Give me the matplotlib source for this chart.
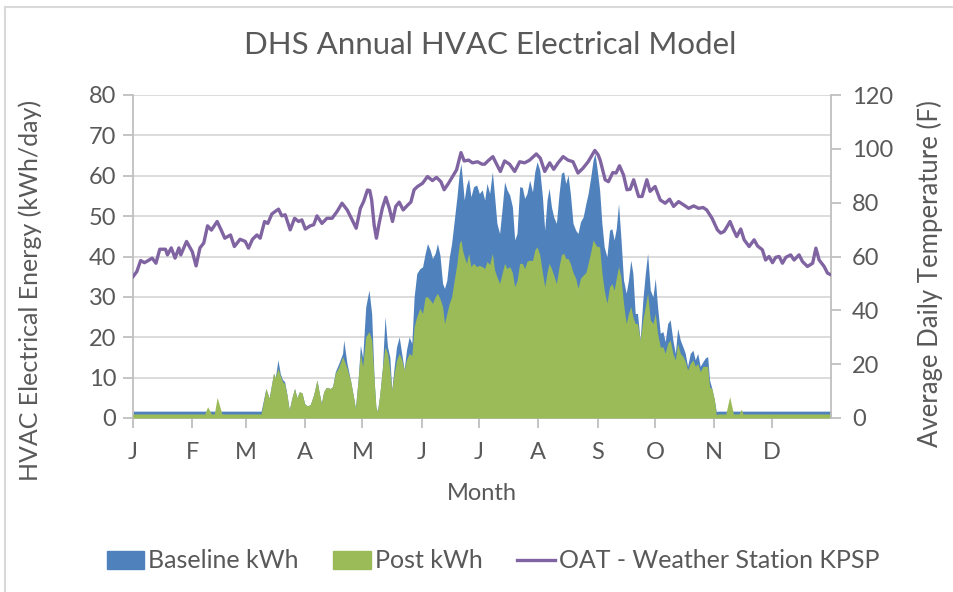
import matplotlib
matplotlib.use("Agg")
import matplotlib.pyplot as plt
from matplotlib.lines import Line2D
from matplotlib.patches import Patch
import numpy as np

# ---------------- data ----------------
month_starts = [0, 31, 59, 90, 120, 151, 181, 212, 243, 273, 304, 334]
month_labels = ["J", "F", "M", "A", "M", "J", "J", "A", "S", "O", "N", "D"]

# day of year for the energy series
energy_days = [
    0, 37.5, 39, 41, 42.5, 44, 46.5, 67, 69.5, 71.2, 73.5, 74.4, 75.8, 77, 78.2, 79.3,
    80.5, 81.7, 83.1, 84.5, 85.7, 87, 88.4, 89.7, 91, 92.7, 94.5, 96.2, 97.4, 98.5,
    99.7, 101.1, 103.2, 104.4, 105.8, 107.6, 109.6, 110.2, 111.9, 113.7, 115.4, 116.3,
    117.7, 118.9, 120.1, 121.7, 123.4, 124.8, 126.1, 127, 127.8, 129, 130.4, 131.8,
    133.1, 134.3, 135.3, 136.5, 137.8, 139.2, 140.5, 141.8, 143, 144.4, 145.8, 147,
    148.4, 150, 151.4, 152.8, 154, 155.4, 156.6, 158, 159.2, 160.5, 161.9, 162.9,
    164.1, 165.4, 166.6, 168, 169.4, 170.6, 171.5, 172.3, 173.2, 174.4, 175.5, 176.7,
    178.1, 179.7, 181.1, 182.6, 183.9, 185.1, 186.5, 187.9, 189.1, 190.3, 191.7,
    193.1, 194.3, 195.6, 197, 198.4, 199.6, 200.8, 202.2, 203.6, 204.8, 206, 207.4,
    208.9, 210.1, 211.3, 212.7, 214.1, 215.3, 216.5, 217.6, 218.8, 220, 221.4, 222.8,
    224, 225.2, 226.3, 227.5, 228.7, 230.1, 231.5, 232.7, 234, 235.4, 236.8, 238,
    239.4, 240.6, 241.6, 242.6, 244, 245.2, 246.4, 247.8, 249.2, 250.4, 251.6, 252.7,
    253.9, 255.1, 256.5, 257.9, 259.1, 260.3, 261.4, 262.6, 263.8, 265.2, 266.6,
    267.9, 269.1, 270.5, 271.9, 273.1, 274.3, 275.7, 277.1, 278.3, 279.6, 280.9,
    282.3, 283.6, 284.8, 286.2, 287.6, 288.8, 290, 291.4, 292.8, 294, 295.3, 296.6,
    298.1, 299.3, 300.5, 301.5, 302.7, 304, 305, 306, 310, 312, 314, 317, 318, 319, 365,
]

baseline_kwh = [
    1.7, 1.7, 1.7, 1.7, 1.7, 1.7, 1.7, 1.7, 7.3, 4.9, 11.1, 10, 14.4, 11, 9.5, 9,
    5.8, 2, 5, 7.3, 5, 6.5, 6.2, 3.6, 3, 3.3, 5.8, 9.4, 6.2, 3.6,
    6.5, 7.6, 7.3, 7.8, 11.5, 13.5, 16, 19.3, 13.5, 9.4, 5, 2.4,
    9.4, 18, 15, 27.5, 31.7, 25.9, 9.4, 2.8, 1.6, 5.6, 12.3, 25.1,
    17.6, 15.1, 6.9, 12.3, 17.6, 20.1, 16, 12, 16.8, 20.1, 18.5, 30,
    35.8, 37, 37.4, 40.8, 43.2, 41.6, 39.5, 40.8, 43.2, 40.4, 33.3, 32.1,
    34.1, 39.9, 43.2, 49, 54.8, 60.6, 63, 58.9, 54, 57.7, 59.3, 54.8,
    57.3, 57.7, 55.6, 56.5, 54, 58.1, 55.6, 61, 54.8, 48.2, 45.7,
    52.3, 58.5, 56.5, 55.2, 52.3, 44.1, 45.7, 57.3, 57.1, 54.4, 55.6, 58.9,
    56, 61, 63.5, 61.4, 54.8, 46.5, 54, 56.9, 52.3, 49.8, 48.2, 55.6,
    60.6, 61, 58.1, 60.2, 55.6, 48.2, 46.5, 45.7, 48.6, 49.8, 53.1, 55.6,
    59.8, 63.9, 65.5, 62, 56.5, 48.2, 42.4, 39.9, 46.5, 46.9, 44.1, 46.9,
    53.1, 44.9, 34.2, 30.9, 34.2, 39.1, 35.8, 25.9, 25.9, 19.3, 29.2,
    35.8, 40.8, 31.7, 30, 34.6, 27.6, 21, 21.4, 18.9, 23.4, 24.3,
    19.3, 16, 22.2, 19.3, 17.6, 16, 12.8, 16, 16.8, 14.4, 16, 12.8,
    14, 14.9, 15.2, 9.4, 7.3, 4.5, 1.6, 1.7, 1.7, 1.7, 1.7, 1.7, 1.7, 1.7, 1.7,
]

post_kwh = [
    1.0, 1.0, 2.8, 1.0, 1.0, 5.1, 1.0, 1.0, 7.3, 4.9, 11.1, 10, 12.3, 10.5, 9, 8.5,
    5.8, 2, 5, 7.3, 5, 6.5, 6.2, 3.6, 3, 3.3, 5.8, 9.4, 6.2, 3.6,
    6.5, 7.6, 7.3, 7.8, 11.1, 12.6, 15.2, 14.5, 12.3, 9.4, 5, 2.4,
    9.4, 16, 12.7, 20.1, 21.4, 19.3, 9.4, 2.8, 1.6, 5.6, 12.3, 17.6,
    16, 11.9, 6.9, 10.9, 14.3, 16, 14.5, 11.9, 14.5, 16, 15.5, 22.6,
    25.1, 27.2, 25.9, 30, 30, 29.2, 28.4, 30, 30.9, 29.6, 27.6, 23.4,
    25.9, 28.4, 30, 34.2, 38.3, 43.2, 44.1, 41.6, 40, 38.3, 40.8, 37.5,
    38.3, 37.5, 37.8, 37.5, 37, 38.8, 38, 40.8, 36.6, 35, 33.3,
    36, 38.3, 37, 37.5, 36, 32.5, 34, 38.3, 38.3, 37, 38.8, 39.1,
    39, 41.6, 42.4, 40.4, 36, 32.5, 36, 38.3, 37, 35.4, 33.3, 37.5,
    40.4, 40.8, 39.5, 39.5, 38.3, 36, 34.6, 32.1, 34.6, 35.4, 36, 38.3,
    41.2, 44.1, 43.2, 42.5, 42.4, 36, 31.7, 28.4, 32.5, 33.3, 31.7, 34.6,
    37.5, 35, 28.4, 23.4, 25.9, 27.6, 25.1, 23.4, 23.4, 19.3, 24.3,
    27.6, 30.9, 24.3, 23.4, 25.9, 21, 17.6, 17.6, 16, 18.5, 19.3,
    16, 14.4, 18.5, 16, 15.2, 14, 11.9, 13.5, 14.4, 12.8, 13.5, 11.5,
    12.8, 12.8, 12.8, 7.7, 7.3, 4.5, 0.8, 1.0, 1.0, 5.3, 1.0, 1.0, 2.2, 1.0, 1.0,
]

# outside air temperature (F), right axis
oat_days = [
    0, 2, 4, 6, 8, 10, 12, 14, 17, 18, 20, 22, 24, 25, 28, 31, 33, 35, 37, 39, 41, 44,
    46, 48, 51, 53, 56, 58.7, 60.4, 62.5, 64.8, 66.5, 68.8, 70.5, 72.6, 74.3, 76.1,
    77.8, 79.6, 82.2, 84.5, 86.6, 88.3, 90.1, 92.7, 94.5, 96.2, 98.8, 101.4, 104.1,
    106.7, 109.3, 112, 114.6, 116.7, 118.9, 120.6, 122.6, 123.8, 124.8, 126.1, 127.3,
    128.7, 130.4, 132.2, 134, 135.7, 137.4, 139.2, 141.3, 143.5, 145.3, 147, 148.8,
    151.4, 154, 156.6, 158.7, 161, 162.7, 165, 167.1, 169.2, 171.5, 173.2, 175.5,
    177.5, 180.2, 182.5, 183.9, 185.6, 188.2, 190, 192.1, 194.3, 196.9, 199.6, 202.2,
    204.8, 207.4, 210.9, 213, 215.3, 217.9, 220, 222.3, 224.9, 227.5, 230.1, 232.7,
    235.3, 238, 241.5, 243.2, 244.3, 246.9, 248.6, 250.9, 252.6, 254.4, 256.5, 258.3,
    260, 261.8, 264.4, 266.2, 268.7, 270.4, 273, 275.7, 278.3, 280.6, 282.7, 285.3,
    287.9, 290.6, 293.2, 295.8, 298.1, 300, 302.8, 305.6, 307.3, 309.1, 310.5, 312.2,
    314, 315.7, 317.8, 319.6, 322.2, 324.8, 326.6, 329.1, 330.8, 332.6, 334.4, 336.1,
    337.9, 339.6, 341.4, 343.9, 345.7, 348.3, 350.1, 352.7, 355.4, 357.1, 358.8,
    361.4, 363.2, 365,
]

oat_f = [
    52.5, 54.4, 58.5, 57.7, 58.5, 59.4, 57.5, 62.7, 62.7, 60.6, 63.2, 59.4, 63.2, 60.6,
    65.6, 61.8, 56.5, 63.2, 65, 71.4, 69.8, 73, 70, 66.8, 68, 63.7, 66.4, 65.6, 63.1,
    66.4, 68, 66.8, 73, 72.3, 75.8, 76.7, 77.6, 75.1, 75.5, 69.9, 74.2, 73, 73.6, 70.2,
    71.4, 71.8, 75.1, 72.3, 74.2, 74.2, 76.7, 79.8, 77.3, 73.6, 70.5, 77.9, 80.4, 84.7,
    84.5, 81, 71.7, 66.8, 72.3, 78, 82, 78, 73, 78.6, 80.2, 77.3, 79, 80.2, 84.8, 86,
    87.2, 89.7, 88.2, 89.4, 87.8, 84.8, 87.2, 89.7, 92.2, 98.6, 95.5, 95.8, 94.8, 95.2,
    94.3, 94.3, 95.5, 97.1, 94.5, 91.6, 95.5, 94.3, 91.6, 95.2, 94.8, 95.8, 98.1, 96.5,
    91.6, 94.8, 92.4, 94.8, 97.1, 95.8, 95.2, 91, 92.8, 95.2, 99.4, 97.8, 95.8, 88.5,
    87.8, 91.2, 91, 93.7, 90.3, 84.8, 85, 88.5, 82.3, 82.3, 88.5, 84.2, 86, 81, 79.8,
    81.3, 78.6, 80.4, 79.2, 77.9, 78.8, 77.9, 78.2, 77.3, 74.2, 69.9, 68.7, 69.3, 70.9,
    73, 69.9, 67.4, 70.2, 66.2, 63.7, 66.2, 63.9, 62.5, 58.7, 60, 57.7, 59.7, 60, 57.5,
    59.7, 60.6, 58.7, 60.6, 58.1, 56.3, 57.5, 63.1, 58.7, 56.3, 53.8, 53.2,
]

# ---------------- style ----------------
FONT = ["Lato", "DejaVu Sans"]
TXT = "#595959"
GRID = "#D9D9D9"
AXC = "#BFBFBF"
BLUE = "#4F81BD"
GREEN = "#9BBB59"
PURPLE = "#8064A2"

plt.rcParams["font.family"] = FONT

fig = plt.figure(figsize=(9.54, 5.92), dpi=100)
W, H = 954, 592
ax = fig.add_axes([133 / W, 1 - 418 / H, (831 - 133) / W, (418 - 95) / H])
ax2 = ax.twinx()

ax.fill_between(energy_days, 0, baseline_kwh, color=BLUE, linewidth=0, zorder=2)
ax.fill_between(energy_days, 0, post_kwh, color=GREEN, linewidth=0, zorder=3)
ax2.plot(oat_days, oat_f, color=PURPLE, linewidth=2.4, solid_joinstyle="round", zorder=4)

ax.set_xlim(0, 365)
ax.set_ylim(0, 80)
ax2.set_ylim(0, 120)
ax.set_yticks(np.arange(0, 81, 10))
ax2.set_yticks(np.arange(0, 121, 20))
ax.set_xticks(month_starts)
ax.set_xticklabels(month_labels)

ax.grid(axis="y", color=GRID, linewidth=1.3, zorder=0)
ax.set_axisbelow(True)

for a in (ax, ax2):
    for s in a.spines.values():
        s.set_visible(False)
ax.spines["left"].set_visible(True)
ax.spines["left"].set_color(AXC)
ax.spines["bottom"].set_visible(True)
ax.spines["bottom"].set_color(AXC)
ax2.spines["right"].set_visible(True)
ax2.spines["right"].set_color(AXC)
for s in ("left", "bottom"):
    ax.spines[s].set_linewidth(1.3)
ax2.spines["right"].set_linewidth(1.3)

LS = 17
ax.tick_params(axis="both", colors=AXC, labelcolor=TXT, labelsize=LS, length=7, width=1.3)
ax.tick_params(axis="x", pad=10)
ax.tick_params(axis="y", pad=5)
ax2.tick_params(axis="y", colors=AXC, labelcolor=TXT, labelsize=LS, length=7, width=1.3, pad=8)

ax.set_xlabel("Month", fontsize=LS, color=TXT)
ax.xaxis.set_label_coords(0.5, (418 - 494) / 323, transform=ax.transAxes)
ax.xaxis.label.set_va("center")
ax.set_ylabel("HVAC Electrical Energy (kWh/day)", fontsize=18, color=TXT)
ax.yaxis.set_label_coords((30 - 133) / 698, (418 - 290) / 323)
ax.yaxis.label.set_va("center")
ax2.set_ylabel("Average Daily Temperature (F)", fontsize=18.5, color=TXT)
ax2.yaxis.set_label_coords((930 - 133) / 698, (418 - 274) / 323)
ax2.yaxis.label.set_va("center")
fig.text(490 / W, 1 - 45 / H, "DHS Annual HVAC Electrical Model", ha="center", va="center",
         fontsize=22.5, color=TXT)

handles = [Patch(facecolor=BLUE, edgecolor=BLUE), Patch(facecolor=GREEN, edgecolor=GREEN),
           Line2D([0], [0], color=PURPLE, linewidth=2.4)]
fig.legend(handles, ["Baseline kWh", "Post kWh", "OAT - Weather Station KPSP"],
           loc="center", bbox_to_anchor=(493 / W, 1 - 561 / H), ncol=3, frameon=False,
           fontsize=18, labelcolor=TXT, handlelength=1.5, handleheight=0.7,
           handletextpad=0.15, columnspacing=1.4)

# chart-area border (top and left visible in the reference)
fig.add_artist(Line2D([5 / W, 1], [1 - 7 / H, 1 - 7 / H], color=GRID, linewidth=1.5))
fig.add_artist(Line2D([5 / W, 5 / W], [0, 1 - 7 / H], color=GRID, linewidth=1.5))

fig.savefig("out.png", dpi=100)
